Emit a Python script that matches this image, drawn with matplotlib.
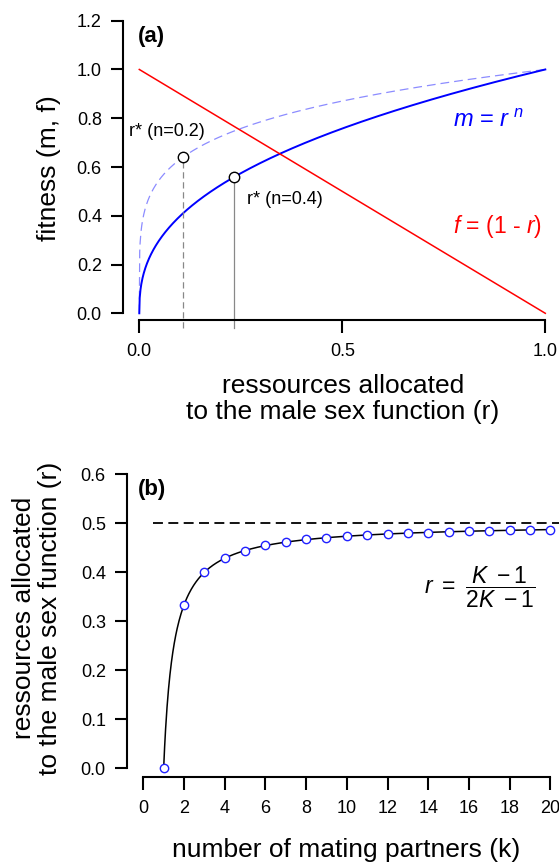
import numpy as np
import matplotlib
matplotlib.use("Agg")
import matplotlib.pyplot as plt

TICK_FS = 13
LABEL_FS = 19

plt.rcParams['font.family'] = ['Liberation Sans', 'DejaVu Sans']
plt.rcParams['mathtext.fontset'] = 'custom'
plt.rcParams['mathtext.rm'] = 'Liberation Sans'
plt.rcParams['mathtext.it'] = 'Liberation Sans:italic'
plt.rcParams['mathtext.bf'] = 'Liberation Sans:bold'
plt.rcParams['xtick.labelsize'] = TICK_FS
plt.rcParams['ytick.labelsize'] = TICK_FS

# --- panel (a) data ---
n_values = [0.4, 0.2]              # exponents of m = r^n
r_star = [0.233, 0.107]            # r*
m_star = [0.558, 0.642]            # fitness at r*
a_xticks = [0.0, 0.5, 1.0]
a_yticks = [0.0, 0.2, 0.4, 0.6, 0.8, 1.0, 1.2]

# --- panel (b) data ---
k_partners = list(range(1, 21))
r_ess = [0.0, 0.333, 0.4, 0.429, 0.444, 0.455, 0.462, 0.467, 0.471, 0.474,
         0.476, 0.478, 0.48, 0.481, 0.483, 0.484, 0.485, 0.486, 0.487, 0.487]
asymptote = 0.5
b_xticks = list(range(0, 21, 2))
b_yticks = [0.0, 0.1, 0.2, 0.3, 0.4, 0.5, 0.6]

W, H = 559, 866
fig = plt.figure(figsize=(W / 100, H / 100), dpi=100)

def px_axes(x0, x1, y_top, y_bot):
    return fig.add_axes([x0 / W, 1 - y_bot / H, (x1 - x0) / W, (y_bot - y_top) / H])

def r_style(ax, off_left, off_bottom):
    for s in ['top', 'right']:
        ax.spines[s].set_visible(False)
    ax.spines['left'].set_position(('outward', off_left))
    ax.spines['bottom'].set_position(('outward', off_bottom))
    for s in ['left', 'bottom']:
        ax.spines[s].set_linewidth(1.5)
    ax.tick_params(axis='both', direction='out', length=9, width=1.5, labelsize=TICK_FS)
    ax.tick_params(axis='x', pad=7.5)
    ax.tick_params(axis='y', pad=6)
    ax.patch.set_alpha(0)

# ---------- panel (a) ----------
ax1 = px_axes(139.3, 545.3, 20.7, 313.3)
r_style(ax1, 12, 4.8)
r = np.linspace(0, 1, 1001)
ax1.plot(r, r ** n_values[1], color='#8c8cff', lw=0.9, ls=(0, (7, 4)), clip_on=False)
ax1.plot(r, r ** n_values[0], color='#0000ff', lw=1.4, clip_on=False)
ax1.plot(r, 1 - r, color='#ff0000', lw=1.1, clip_on=False)
ax1.plot([r_star[1], r_star[1]], [-0.059, m_star[1]], color='#888888', lw=0.9,
         ls=(0, (5, 3)), clip_on=False)
ax1.plot([r_star[0], r_star[0]], [-0.059, m_star[0]], color='#888888', lw=0.9, clip_on=False)
ax1.plot(r_star, m_star, 'o', ms=7.5, mfc='white', mec='black', mew=1.0, clip_on=False, zorder=5)

ax1.set_xlim(0, 1)
ax1.set_ylim(0, 1.2)
ax1.set_xticks(a_xticks, [f'{v:.1f}' for v in a_xticks])
ax1.set_yticks(a_yticks, [f'{v:.1f}' for v in a_yticks])
ax1.spines['left'].set_bounds(0, 1.2)
ax1.spines['bottom'].set_bounds(0, 1)

ax1.text(-0.003, 1.137, '(a)', fontsize=16, fontweight='bold', va='center', ha='left')
ax1.text(-0.025, 0.745, 'r* (n=0.2)', fontsize=13, va='center', ha='left')
ax1.text(0.2645, 0.465, 'r* (n=0.4)', fontsize=13, va='center', ha='left')
ax1.text(0.772, 0.789, r'$m$ = $r^{\ n}$', fontsize=17, color='#0000ff', va='center', ha='left')
ax1.text(0.7727, 0.358, r'$f$ = (1 - $r$)', fontsize=16.5, color='#ff0000', va='center', ha='left')

fig.text(49.5 / W, 1 - 168 / H, 'fitness (m, f)', rotation=90, fontsize=LABEL_FS,
         ha='center', va='center')
fig.text(343 / W, 1 - 399 / H, 'ressources allocated\nto the male sex function (r)',
         fontsize=LABEL_FS, ha='center', va='center', linespacing=1.1)

# ---------- panel (b) ----------
ax2 = px_axes(143.3, 550.3, 474.3, 768.3)
r_style(ax2, 12, 6)
kk = np.linspace(1, 20, 800)
ax2.plot(kk, (kk - 1) / (2 * kk - 1), color='black', lw=1.1, clip_on=False)
ax2.plot([0.5, 21], [asymptote, asymptote], color='black', lw=1.3,
         ls=(0, (5.5, 3)), clip_on=False)
ax2.plot(k_partners, r_ess, 'o', ms=6, mfc='white', mec='#2020ff', mew=1.0,
         clip_on=False, zorder=5)

ax2.set_xlim(0, 20)
ax2.set_ylim(0, 0.6)
ax2.set_xticks(b_xticks, [str(v) for v in b_xticks])
ax2.set_yticks(b_yticks, [f'{v:.1f}' for v in b_yticks])
ax2.spines['left'].set_bounds(0, 0.6)
ax2.spines['bottom'].set_bounds(0, 20)

ax2.text(-0.26, 0.570, '(b)', fontsize=16, fontweight='bold', va='center', ha='left')
ax2.text(16.55, 0.37, r'$r\ =\ \dfrac{K\ -1}{2K\ -1}$', fontsize=16.5, va='center', ha='center')

fig.text(37 / W, 1 - 618 / H, 'ressources allocated\nto the male sex function (r)',
         rotation=90, fontsize=LABEL_FS, ha='center', va='center', linespacing=1.1)
fig.text(346.5 / W, 1 - 850 / H, 'number of mating partners (k)', fontsize=LABEL_FS,
         ha='center', va='center')

fig.savefig('out.png', dpi=100)
